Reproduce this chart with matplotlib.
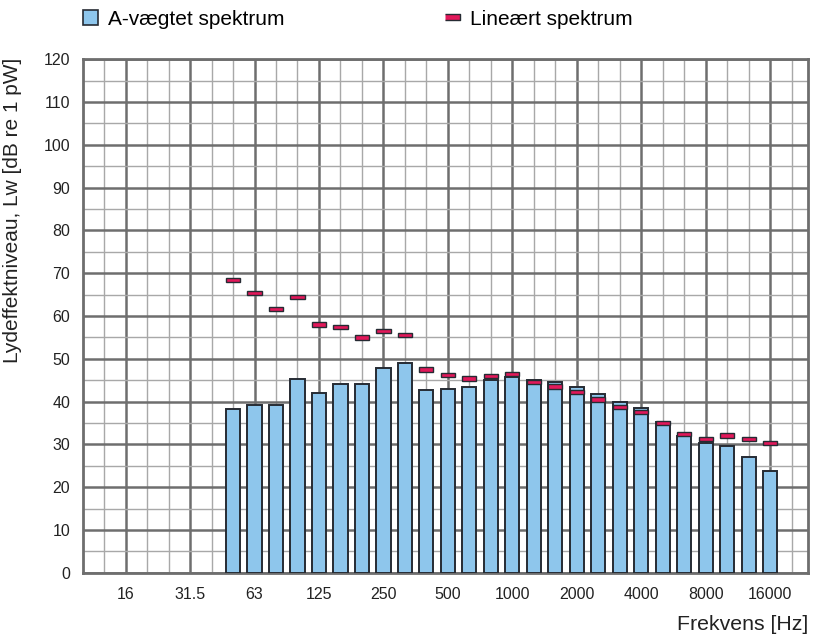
import matplotlib.pyplot as plt
import numpy as np
from matplotlib.patches import Patch
from matplotlib.lines import Line2D

plt.rcParams['font.family'] = ['Liberation Sans', 'DejaVu Sans']

# third-octave bands (Hz)
band_freqs = [50, 63, 80, 100, 125, 160, 200, 250, 315, 400, 500, 630, 800,
              1000, 1250, 1600, 2000, 2500, 3150, 4000, 5000, 6300, 8000,
              10000, 12500, 16000]
a_weighted = [38.3, 39.1, 39.2, 45.3, 41.9, 44.1, 44.1, 47.9, 49.0, 42.6,
              43.0, 43.4, 45.1, 45.8, 45.0, 44.5, 43.4, 41.8, 39.9, 38.5,
              35.3, 32.0, 30.3, 29.6, 27.1, 23.7]
linear = [68.5, 65.3, 61.7, 64.5, 58.0, 57.5, 55.0, 56.5, 55.6, 47.5,
          46.2, 45.4, 45.9, 46.4, 44.5, 43.5, 42.3, 40.5, 38.8, 37.6,
          35.0, 32.5, 31.3, 32.1, 31.3, 30.3]
octave_labels = ["16", "31.5", "63", "125", "250", "500", "1000", "2000",
                 "4000", "8000", "16000"]

bar_col = '#8ec6ec'
edge_col = '#262b33'
red_col = '#e2185a'

# position in third-octave steps, 16 Hz = 0
x = np.round(3 * np.log2(np.array(band_freqs) / 16.0))

fig = plt.figure(figsize=(8.25, 6.37), dpi=100)
ax = fig.add_axes([0.1002, 0.1009, 0.8796, 0.806])

ax.bar(x, a_weighted, width=0.66, color=bar_col, edgecolor=edge_col, lw=1.4, zorder=3)
lin = np.array(linear)
ax.bar(x, 1.0, bottom=lin - 0.5, width=0.66, color=red_col, edgecolor=edge_col,
       lw=1.0, zorder=4)

ax.set_xlim(-2, 31.78)
ax.set_ylim(0, 120)
ax.set_xticks(np.arange(0, 31, 3))
ax.set_xticklabels(octave_labels)
ax.set_xticks([k for k in range(-1, 32) if k % 3 != 0], minor=True)
ax.set_yticks(np.arange(0, 121, 10))
ax.set_yticks(np.arange(5, 120, 10), minor=True)
ax.tick_params(which='both', length=0, labelsize=11.5, colors='#222222')
ax.tick_params(axis='x', pad=10)
ax.tick_params(axis='y', pad=9)

ax.set_axisbelow(True)
ax.grid(which='major', color='#6e6e6e', lw=1.8)
ax.grid(which='minor', color='#a8a8a8', lw=1.0)
for s in ax.spines.values():
    s.set_color('#6e6e6e')
    s.set_linewidth(2)

ax.set_ylabel("Lydeffektniveau, Lw [dB re 1 pW]", fontsize=15, color='#222222')
ax.yaxis.set_label_coords(-0.0837, 0.706)
fig.text(0.98, 0.004, "Frekvens [Hz]", ha='right', va='bottom', fontsize=15.3, color='#222222')

handles = [
    Patch(facecolor=bar_col, edgecolor=edge_col, lw=1.2),
    Line2D([], [], ls='none', marker=[(-1, -0.35), (1, -0.35), (1, 0.35), (-1, 0.35)],
           markersize=10.8, markerfacecolor=red_col, markeredgecolor=edge_col, markeredgewidth=1.0),
]
fig.legend(handles, ["A-vægtet spektrum", "Lineært spektrum"], loc='upper left',
           bbox_to_anchor=(0.1006, 0.985), ncol=2, frameon=False, fontsize=15,
           borderpad=0, borderaxespad=0, handlelength=0.7, handleheight=0.75,
           handletextpad=0.5, columnspacing=7.7)

fig.savefig('out.png', dpi=100)
